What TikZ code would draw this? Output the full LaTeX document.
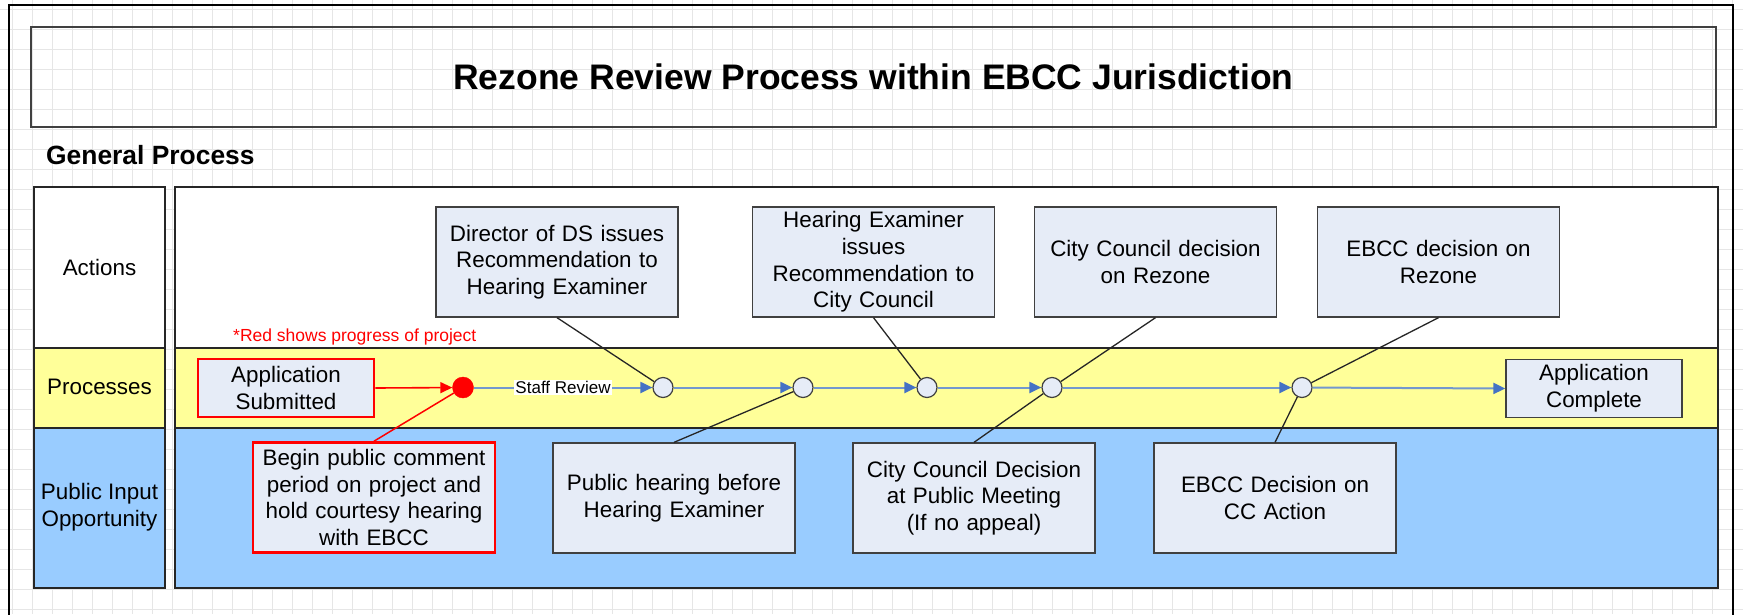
\documentclass[tikz,border=0pt]{standalone}
\usepackage{fontspec}
\setmainfont{Liberation Sans}
\usetikzlibrary{arrows.meta}
\definecolor{boxfill}{HTML}{E6ECF7}
\definecolor{boxline}{HTML}{404040}
\definecolor{laneyellow}{HTML}{FFFF99}
\definecolor{laneblue}{HTML}{99CCFF}
\definecolor{flowblue}{HTML}{7398CE}
\definecolor{tipblue}{HTML}{4472C4}
\definecolor{gridgray}{HTML}{E6E6E6}
\begin{document}
\begin{tikzpicture}[x=1pt,y=-1pt,
  txt/.style={font=\fontsize{22.4}{26.7}\selectfont},
  actbox/.style={txt, draw=boxline, fill=boxfill, line width=1.3pt, minimum width=242pt, minimum height=110pt, text width=234pt, align=center, inner sep=0pt},
  redbox/.style={actbox, draw=red, line width=2.6pt},
  procbox/.style={actbox, minimum width=176pt, minimum height=58pt, text width=170pt},
  milestone/.style={circle, draw=boxline, fill=boxfill, line width=1.2pt, minimum size=20pt, inner sep=0pt},
  reddot/.style={circle, draw=red, fill=red, minimum size=21pt, inner sep=0pt},
  flow/.style={draw=flowblue, line width=2pt, -{Triangle[length=12pt,width=11pt,fill=tipblue,color=tipblue]}},
  redflow/.style={draw=red, line width=1.6pt, -{Triangle[length=12pt,width=11pt]}},
  link/.style={draw=black!85, line width=1.3pt},
  redlink/.style={draw=red, line width=1.5pt},
  lane/.style={draw=black!85, line width=1.6pt},
  gridline/.style={draw=gridgray, line width=0.8pt},
  lanelabel/.style={txt, align=center, inner sep=0pt},
]
\useasboundingbox (0,0) rectangle (1743,614);
\fill[white] (0,0) rectangle (1743,614);
% background grid
\foreach \gx in {12,32,...,1732} \draw[gridline] (\gx,0) -- (\gx,614);
\foreach \gy in {9,29,...,609} \draw[gridline] (0,\gy) -- (1743,\gy);
% outer frame
\draw[black, line width=2.4pt] (9,620) -- (9,5) -- (1733,5) -- (1733,620);
% title
\node[draw=boxline, line width=1.5pt, minimum width=1685pt, minimum height=100pt, inner sep=0pt,
      font=\fontsize{35.5}{42}\selectfont\bfseries] (title) at (873.5,77) {Rezone Review Process within EBCC Jurisdiction};
\node[anchor=west, inner sep=0pt, font=\fontsize{26.4}{30}\selectfont\bfseries] (general) at (46,155) {General Process};
% lanes: label column
\draw[lane, fill=white] (34,187) rectangle (165,348);
\draw[lane, fill=laneyellow] (34,348) rectangle (165,428);
\draw[lane, fill=laneblue] (34,428) rectangle (165,588);
% lanes: main area
\draw[lane, fill=white] (175,187) rectangle (1718,348);
\draw[lane, fill=laneyellow] (175,348) rectangle (1718,428);
\draw[lane, fill=laneblue] (175,428) rectangle (1718,588);
% lane labels
\node[lanelabel] (lact) at (99.5,267) {Actions};
\node[lanelabel] (lproc) at (99.5,387) {Processes};
\node[lanelabel] (lpub) at (99.5,507) {Public Input\\Opportunity};
% action boxes
\node[actbox] (dir) at (557,262) {Director of DS issues\\Recommendation to\\Hearing Examiner};
\node[actbox] (he) at (873.5,262) {Hearing Examiner\\issues\\Recommendation to\\City Council};
\node[actbox] (ccd) at (1155.5,262) {City Council decision\\on Rezone};
\node[actbox] (ebd) at (1438.5,262) {EBCC decision on\\Rezone};
% note
\node[anchor=west, inner sep=0pt, text=red, font=\fontsize{17.5}{20}\selectfont] (note) at (233,337) {*Red shows progress of project};
% process row
\node[procbox, draw=red, line width=2.6pt] (appsub) at (286,388) {Application\\Submitted};
\node[procbox] (appcomp) at (1594,388.5) {Application\\Complete};
\node[reddot] (dot) at (463,387.5) {};
\node[milestone] (c1) at (663,387.5) {};
\node[milestone] (c2) at (803,387.5) {};
\node[milestone] (c3) at (927,387.5) {};
\node[milestone] (c4) at (1052,387.5) {};
\node[milestone] (c5) at (1302,387.5) {};
% public input boxes
\node[redbox] (begin) at (374,497.5) {Begin public comment\\period on project and\\hold courtesy hearing\\with EBCC};
\node[actbox] (ph) at (674,498) {Public hearing before\\Hearing Examiner};
\node[actbox] (ccpm) at (974,498) {City Council Decision\\at Public Meeting\\(If no appeal)};
\node[actbox] (ebcc) at (1275,498) {EBCC Decision on\\CC Action};
% flow
\draw[redflow] (appsub.east) -- (dot);
\draw[flow] (dot) -- node[fill=white, inner sep=1.5pt, font=\fontsize{17}{19}\selectfont] (staff) {Staff Review} (c1);
\draw[flow] (c1) -- (c2);
\draw[flow] (c2) -- (c3);
\draw[flow] (c3) -- (c4);
\draw[flow] (c4) -- (c5);
\draw[flow] (c5) -- (appcomp.west);
% links
\draw[link] (dir.south) -- (c1);
\draw[link] (he.south) -- (c3);
\draw[link] (ccd.south) -- (c4);
\draw[link] (ebd.south) -- (c5);
\draw[link] (ph.north) -- (c2);
\draw[link] (ccpm.north) -- (c4);
\draw[link] (ebcc.north) -- (c5);
\draw[redlink] (begin.north) -- (dot);
\end{tikzpicture}
\end{document}
